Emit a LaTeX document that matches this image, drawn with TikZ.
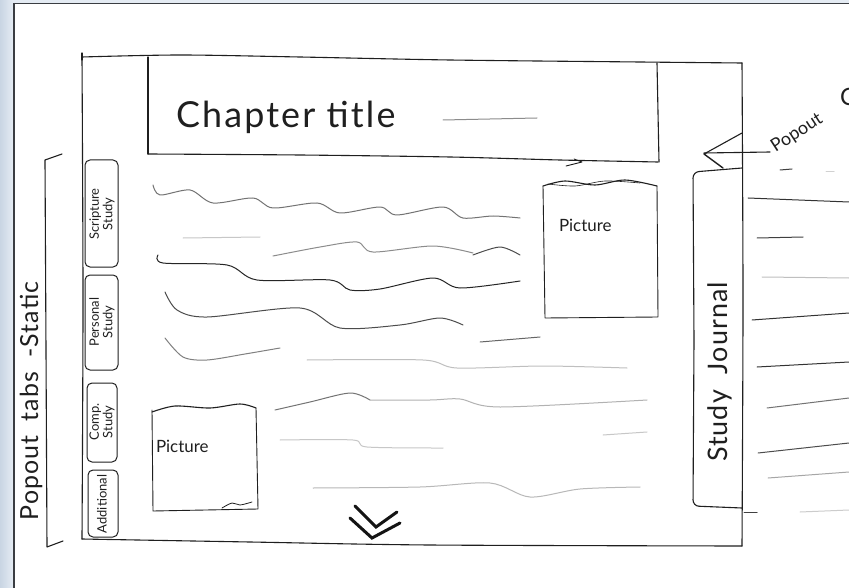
\documentclass[tikz,border=0pt]{standalone}
\usepackage{fontspec}
\setmainfont{Lato}
\definecolor{bandL}{HTML}{C9D5E3}
\definecolor{bandR}{HTML}{E4EBF3}
\definecolor{edge}{HTML}{3A3D42}
\tikzset{
  ink/.style={draw=black!88, line width=1.1bp, line cap=round, line join=round},
  wave/.style={line width=1bp, line cap=round, line join=round},
  tabbox/.style={draw=black!88, line width=1bp, rounded corners=5bp},
  hand/.style={text=black!88, inner sep=0pt, outer sep=0pt},
  chev/.style={draw=black!92, line width=3bp, line cap=round, line join=miter},
}
\begin{document}
\begin{tikzpicture}[x=1bp,y=-1bp]
\useasboundingbox (0,0) rectangle (849,588);
% window background
\fill[white] (0,0) rectangle (849,588);
\shade[left color=bandL, right color=bandR] (0,0) rectangle (13,588);
\fill[bandR] (13,0) rectangle (849,3);
\draw[edge, line width=1.6bp] (14,588) -- (14,3.5) -- (849,3.5);

% main page frame
\draw[ink] plot[smooth] coordinates {(82,57) (180,55) (300,57) (450,60) (640,62) (742,63)};
\draw[ink] (82,53) -- (82,60);
\draw[ink] plot[smooth] coordinates {(82,57) (83,300) (82,539)};
\draw[ink] plot[smooth] coordinates {(742,63) (743,300) (742,546)};
\draw[ink] plot[smooth] coordinates {(82,539) (250,542) (430,545) (742,546)};

% chapter title box
\draw[ink] (148,57) -- (148,154);
\draw[ink] plot[smooth] coordinates {(148,154) (300,155) (450,157) (560,160) (658,162)};
\draw[ink] (657,63) -- (659,162);
\draw[ink, line width=0.9bp] (566,166) -- (582,162) -- (574,159);
\node[hand, anchor=base west, font=\fontsize{36}{36}\selectfont\addfontfeatures{LetterSpace=6}] (title) at (176,128) {Chapter title};
\draw[draw=black!45, line width=1bp, line cap=round] (443,120) -- (537,118);

% body text squiggles
\draw[wave, black!55] plot[smooth] coordinates {(153,185) (160,195) (190,190) (213,203) (253,198) (273,208) (317,203) (340,213) (380,207) (397,215) (443,207) (463,218) (493,216) (520,218)};
\draw[wave, black!22] (183,238) -- (260,237);
\draw[wave, black!45] plot[smooth] coordinates {(273,256) (320,247) (357,242) (373,252) (433,246) (473,253)};
\draw[wave, black!70] plot[smooth] coordinates {(473,255) (500,247) (520,255)};
\draw[wave, black!85] plot[smooth] coordinates {(158,255) (163,263) (227,265) (257,280) (330,280) (350,290) (380,289) (433,278) (460,288) (520,281)};
\draw[wave, black!70] plot[smooth] coordinates {(165,292) (177,310) (207,317) (300,308) (340,328) (400,325) (440,318) (463,325)};
\draw[wave, black!60] (480,342) -- (540,337);
\draw[wave, black!50] plot[smooth] coordinates {(165,338) (183,357) (207,360) (245,354) (280,348)};
\draw[wave, black!25] plot[smooth] coordinates {(307,360) (423,360) (457,368) (543,366) (627,368)};
\draw[wave, black!55] plot[smooth] coordinates {(275,410) (310,402) (350,393) (370,400)};
\draw[wave, black!30] plot[smooth] coordinates {(370,400) (430,400) (460,399) (500,407) (647,400)};
\draw[wave, black!22] plot[smooth] coordinates {(280,440) (353,440) (367,447) (443,448)};
\draw[wave, black!22] (603,435) -- (647,432);
\draw[wave, black!28] plot[smooth] coordinates {(313,488) (420,487) (490,483) (530,497) (580,489) (640,487)};

% pictures
\draw[ink, line width=0.9bp] (543,186) -- (545,318) -- (658,317) -- (657,186);
\draw[ink] plot[smooth] coordinates {(543,186) (565,181) (595,185) (625,180) (657,186)};
\draw[ink, line width=0.6bp] plot[smooth] coordinates {(548,184) (575,186) (605,181) (640,183)};
\node[hand, anchor=base west, font=\fontsize{17}{17}\selectfont] (picR) at (559,232) {Picture};

\draw[ink, line width=0.9bp] (152,410) -- (153,511) -- (258,509) -- (256,408);
\draw[ink] plot[smooth] coordinates {(152,412) (175,406) (210,408) (240,404) (256,408)};
\draw[ink, line width=0.8bp] plot[smooth] coordinates {(222,508) (232,503) (240,505) (252,502)};
\node[hand, anchor=base west, font=\fontsize{17}{17}\selectfont] (picL) at (156,452) {Picture};

% scroll-down chevron
\draw[chev] (355,506) -- (376,527) -- (397,512);
\draw[chev] (350,518) -- (372,538) -- (400,523);

% left popout tabs
\draw[ink] (62,154) -- (45,160) -- (46,350) -- (47,547) -- (63,541);
\node[hand, rotate=90, font=\fontsize{25}{25}\selectfont\addfontfeatures{LetterSpace=4}] (poptabs) at (31,401) {Popout\ \ tabs\ \ -Static};

\draw[tabbox] (85,160) rectangle (118,267);
\node[hand, rotate=90, align=center, font=\fontsize{13}{13.5}\selectfont] (tabA) at (102,214) {Scripture\\Study};
\draw[tabbox] (85,275) rectangle (118,370);
\node[hand, rotate=90, align=center, font=\fontsize{13}{13.5}\selectfont] (tabB) at (102,322) {Personal\\Study};
\draw[tabbox] (87,383) rectangle (117,462);
\node[hand, rotate=90, align=center, font=\fontsize{13}{13.5}\selectfont] (tabC) at (102,422) {Comp.\\Study};
\draw[tabbox] (88,470) rectangle (118,537);
\node[hand, rotate=90, font=\fontsize{13}{13}\selectfont] (tabD) at (102,504) {Additional};

% study journal tab
\draw[ink, rounded corners=6bp] (742,168) -- (693,172) -- (694,340) -- (693,506) -- (742,508);
\node[hand, rotate=90, font=\fontsize{27}{27}\selectfont\addfontfeatures{LetterSpace=4}] (journal) at (720,372) {Study\ \ Journal};

% journal lines beyond the page
\draw[wave, black!75] (780,170) -- (792,169);
\draw[wave, black!18] (826,172) -- (834,172);
\draw[wave, black!80] (748,198) -- (849,202);
\draw[wave, black!75] (757,238) -- (803,237);
\draw[wave, black!25] (762,277) -- (849,278);
\draw[wave, black!80] (752,320) -- (849,313);
\draw[wave, black!80] (757,367) -- (849,362);
\draw[wave, black!55] (767,408) -- (849,398);
\draw[wave, black!70] (758,453) -- (849,443);
\draw[wave, black!35] (768,478) -- (849,472);
\draw[wave, black!75] (744,512) -- (757,512);
\draw[wave, black!20] (800,512) -- (849,510);

% popout arrow and label
\draw[ink] (742,133) -- (704,154);
\draw[ink, line width=1.4bp] (704,154) -- (723,168);
\draw[ink] (704,153) -- (770,152);
\node[hand, rotate=33, font=\fontsize{18}{18}\selectfont] (popR) at (797,133) {Popout};
\node[hand, anchor=west, font=\fontsize{24}{24}\selectfont] (popC) at (840,97) {C};
\end{tikzpicture}
\end{document}
